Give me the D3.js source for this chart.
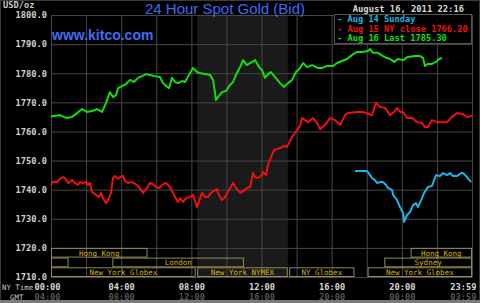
<!DOCTYPE html>
<html>
<head>
<meta charset="utf-8">
<script src="https://cdn.jsdelivr.net/npm/d3@7"></script>
<style>
  body { margin: 0; background: #000; }
  svg { display: block; }
  .mono { font-family: "DejaVu Sans Mono", monospace; font-weight: bold; }
</style>
</head>
<body>
<svg id="chart" width="480" height="303"></svg>
<script>
// values (hours NY time, USD/oz)
var yTicks = [1710, 1720, 1730, 1740, 1750, 1760, 1770, 1780, 1790, 1800];
var nyTickHours = [0, 4, 8, 12, 16, 20, 24];
var nyLabels = ["00:00", "04:00", "08:00", "12:00", "16:00", "20:00", "23:59"];
var gmtLabels = ["04:00", "08:00", "12:00", "16:00", "20:00", "00:00", "03:59"];

var greenHours = [0.00, 0.11, 0.51, 0.74, 0.91, 1.20, 1.48, 1.77, 2.05, 2.34, 2.62, 2.91, 3.14, 3.36, 3.53, 3.71, 3.82,
  4.05, 4.28, 4.50, 4.73, 4.96, 5.19, 5.42, 5.64, 5.93, 6.21, 6.39, 6.56, 6.73, 6.90, 7.07, 7.24, 7.47, 7.64, 7.93,
  8.10, 8.32, 8.49, 8.78, 9.07, 9.24, 9.41, 9.52, 9.75, 9.98, 10.21, 10.38, 10.60, 10.78, 10.95, 11.17, 11.35, 11.63,
  11.86, 12.03, 12.20, 12.37, 12.54, 12.77, 13.06, 13.28, 13.51, 13.74, 13.97, 14.20, 14.37, 14.60, 14.88, 15.22,
  15.45, 15.74, 16.08, 16.31, 16.59, 16.88, 17.16, 17.45, 17.73, 18.07, 18.19, 18.36, 18.64, 18.93, 19.16, 19.33,
  19.56, 19.78, 20.07, 20.35, 20.75, 21.04, 21.21, 21.32, 21.49, 21.72, 21.95, 22.12, 22.29];
var greenValues = [1765.0, 1765.3, 1765.6, 1765.0, 1764.6, 1765.0, 1766.3, 1767.7, 1766.7, 1767.0, 1767.7, 1766.7, 1769.8, 1773.5, 1771.8, 1772.5, 1774.9,
  1775.6, 1776.3, 1777.7, 1777.0, 1778.4, 1779.0, 1779.7, 1779.4, 1779.0, 1778.7, 1776.6, 1775.6, 1774.9, 1778.4, 1777.0, 1776.6, 1777.3, 1777.0, 1780.1,
  1781.8, 1780.4, 1780.1, 1779.7, 1779.4, 1777.7, 1770.8, 1771.8, 1773.5, 1773.9, 1776.0, 1777.0, 1780.1, 1782.1, 1784.5, 1782.8, 1783.5, 1784.5,
  1782.1, 1781.1, 1778.4, 1779.7, 1780.4, 1778.7, 1776.6, 1775.3, 1776.6, 1777.7, 1780.4, 1781.8, 1783.5, 1782.1, 1782.8, 1781.8,
  1781.8, 1782.5, 1782.5, 1783.5, 1784.2, 1784.9, 1786.3, 1787.3, 1787.3, 1787.6, 1788.3, 1787.0, 1787.0, 1785.9, 1785.2, 1784.9,
  1783.9, 1784.9, 1784.5, 1785.6, 1785.9, 1785.9, 1785.2, 1782.5, 1783.2, 1783.2, 1783.9, 1784.9, 1785.2];

var redHours = [0.00, 0.11, 0.34, 0.51, 0.68, 0.80, 0.97, 1.08, 1.20, 1.37, 1.54, 1.65, 1.82, 2.00, 2.11, 2.22, 2.34, 2.57,
  2.74, 2.85, 2.96, 3.14, 3.25, 3.42, 3.53, 3.65, 3.82, 3.93, 4.10, 4.22, 4.39, 4.56, 4.73, 4.96, 5.13, 5.25, 5.47,
  5.64, 5.82, 5.99, 6.16, 6.39, 6.56, 6.78, 7.01, 7.24, 7.35, 7.53, 7.70, 7.92, 8.10, 8.32, 8.61, 8.78, 8.95, 9.18,
  9.46, 9.52, 9.75, 9.92, 10.09, 10.38, 10.55, 10.78, 10.95, 11.17, 11.35, 11.52, 11.63, 11.80, 12.03, 12.09, 12.26,
  12.37, 12.54, 12.71, 13.06, 13.28, 13.45, 13.74, 14.03, 14.20, 14.31, 14.48, 14.65, 14.94, 15.17, 15.34, 15.62,
  15.91, 16.19, 16.48, 16.76, 16.93, 17.45, 17.79, 18.30, 18.53, 18.76, 19.04, 19.33, 19.56, 19.73, 19.90, 20.07,
  20.30, 20.58, 20.87, 21.15, 21.32, 21.49, 21.72, 22.01, 22.35, 22.58, 22.86, 23.15, 23.43, 23.72, 24.00];
var redValues = [1741.6, 1742.6, 1742.6, 1743.7, 1744.3, 1744.0, 1742.3, 1742.6, 1743.3, 1742.3, 1741.6, 1742.6, 1742.3, 1742.6, 1741.6, 1742.3, 1739.2, 1738.2,
  1737.5, 1738.9, 1737.1, 1735.4, 1736.4, 1738.9, 1744.0, 1744.7, 1743.7, 1744.3, 1744.7, 1743.0, 1742.3, 1742.6, 1742.3, 1741.3, 1739.9, 1738.9, 1740.6,
  1742.3, 1741.9, 1740.9, 1740.6, 1741.9, 1742.3, 1740.9, 1738.2, 1735.8, 1737.1, 1735.8, 1737.1, 1737.5, 1738.2, 1734.0, 1738.9, 1737.5, 1737.5, 1739.2,
  1740.2, 1738.9, 1736.4, 1737.5, 1739.2, 1742.3, 1740.6, 1738.9, 1739.5, 1740.6, 1740.9, 1745.7, 1744.3, 1744.0, 1745.0, 1746.1, 1745.0,
  1748.5, 1751.2, 1753.6, 1754.3, 1755.0, 1754.7, 1758.1, 1760.5, 1761.9, 1764.6, 1763.9, 1763.2, 1764.6, 1762.9, 1760.8, 1762.2,
  1764.6, 1763.9, 1762.2, 1765.6, 1766.3, 1766.7, 1766.7, 1765.6, 1769.8, 1768.4, 1768.1, 1765.6, 1766.7, 1768.1, 1766.7, 1766.7,
  1764.6, 1764.6, 1763.2, 1762.9, 1761.5, 1761.5, 1763.9, 1763.2, 1763.2, 1763.2, 1765.0, 1766.3, 1766.0, 1765.0, 1765.3];

var cyanHours = [17.33, 18.02, 18.19, 18.30, 18.47, 18.59, 18.76, 18.93, 19.10, 19.21, 19.44, 19.50, 19.73, 19.90, 20.07,
  20.13, 20.30, 20.47, 20.64, 20.81, 20.92, 21.15, 21.27, 21.49, 21.72, 21.84, 21.95, 22.18, 22.35, 22.58, 22.75,
  22.92, 23.15, 23.38, 23.49, 23.72, 23.95];
var cyanValues = [1746.4, 1746.4, 1745.0, 1744.0, 1743.3, 1742.3, 1742.6, 1742.6, 1741.6, 1740.6, 1739.9, 1738.2, 1736.4, 1734.0, 1732.0,
  1728.9, 1731.3, 1732.3, 1734.7, 1735.4, 1734.0, 1737.1, 1738.9, 1740.9, 1741.3, 1743.3, 1745.0, 1744.7, 1745.7, 1745.0, 1745.7,
  1744.7, 1744.7, 1745.7, 1745.7, 1744.3, 1742.6];

var legendLabels = ["- Aug 14 Sunday", "- Aug 15 NY close 1766.20", "- Aug 16 Last 1785.30"];
var legendColors = ["#1eb4e6", "#f01010", "#10e010"];

// trading sessions shown at the foot of the chart
var sessionNames = ["Hong Kong", "Hong Kong", "", "London", "Sydney", "New York Globex", "New York NYMEX", "NY Globex", "New York Globex"];
var sessionStart = [0, 20.5, 0, 3.5, 19, 0, 8.33, 13.58, 18.05];
var sessionEnd = [5.5, 24, 1, 11, 24, 8.25, 13.5, 17.3, 24];
var sessionRow = [0, 0, 1, 1, 1, 2, 2, 2, 2];
var nymexHours = [8.33, 13.5];

var svg = d3.select("#chart");
var plotLeft = 51, plotRight = 472, plotTop = 15, plotBottom = 277;

var x = d3.scaleLinear().domain([0, 24]).range([plotLeft, plotRight]);
var y = d3.scaleLinear().domain([1710, 1800]).range([plotBottom, plotTop]);

svg.append("rect").attr("width", 480).attr("height", 303).attr("fill", "#000");

// NYMEX open hours shading
svg.append("rect")
  .attr("x", x(nymexHours[0]))
  .attr("y", plotTop)
  .attr("width", x(nymexHours[1]) - x(nymexHours[0]))
  .attr("height", plotBottom - plotTop)
  .attr("fill", "#1a1a1a");

// vertical grid every 2 hours
var xGrid = d3.axisBottom(x).tickValues(d3.range(0, 25, 2)).tickSize(-(plotBottom - plotTop)).tickFormat("");
svg.append("g").attr("transform", "translate(0," + plotBottom + ")").call(xGrid)
  .call(function(g) { g.select(".domain").remove(); })
  .selectAll("line").attr("stroke", "#474747");

// horizontal grid + price labels
var yAxis = d3.axisLeft(y).tickValues(yTicks).tickSize(-(plotRight - plotLeft)).tickPadding(4).tickFormat(d3.format(".1f"));
var yg = svg.append("g").attr("transform", "translate(" + plotLeft + ",0)").call(yAxis);
yg.select(".domain").remove();
yg.selectAll("line").attr("stroke", "#474747");
yg.selectAll("text").attr("class", "mono").attr("fill", "#d0d0d0").style("font-size", "8.7px");

// session boxes
var rowH = (plotBottom - y(1720)) / 3;
var sess = svg.append("g").selectAll("g").data(sessionNames).enter().append("g");
sess.append("rect")
  .attr("x", function(d, i) { return x(sessionStart[i]) + 0.5; })
  .attr("y", function(d, i) { return y(1720) + sessionRow[i] * rowH + 0.5; })
  .attr("width", function(d, i) { return x(sessionEnd[i]) - x(sessionStart[i]) - 1; })
  .attr("height", rowH - 1)
  .attr("fill", "none")
  .attr("stroke", "#8f8a58");
sess.append("text")
  .attr("class", "mono")
  .attr("x", function(d, i) { return (x(sessionStart[i]) + x(sessionEnd[i])) / 2; })
  .attr("y", function(d, i) { return y(1720) + sessionRow[i] * rowH + rowH - 2; })
  .attr("text-anchor", "middle")
  .attr("fill", "#d8b400")
  .style("font-size", "7.5px")
  .style("font-weight", "normal")
  .text(function(d) { return d; });

// price lines
var line = d3.line()
  .x(function(d) { return x(d[0]); })
  .y(function(d) { return y(d[1]); });

function drawSeries(hours, values, color) {
  svg.append("path")
    .datum(d3.zip(hours, values))
    .attr("d", line)
    .attr("fill", "none")
    .attr("stroke", color)
    .attr("stroke-width", 2)
    .attr("stroke-linejoin", "round");
}
drawSeries(redHours, redValues, legendColors[1]);
drawSeries(cyanHours, cyanValues, legendColors[0]);
drawSeries(greenHours, greenValues, legendColors[2]);

// time axes
var nyAxis = d3.axisBottom(x).tickValues(nyTickHours).tickSize(0).tickPadding(0)
  .tickFormat(function(d, i) { return nyLabels[i]; });
var nyg = svg.append("g").attr("transform", "translate(0,283)").call(nyAxis);
nyg.select(".domain").remove();
nyg.selectAll("text").attr("class", "mono").attr("fill", "#d8d8d8").style("font-size", "8.7px").attr("dy", "0.75em");

var gmtAxis = d3.axisBottom(x).tickValues(nyTickHours).tickSize(0).tickPadding(0)
  .tickFormat(function(d, i) { return gmtLabels[i]; });
var gg = svg.append("g").attr("transform", "translate(0,293)").call(gmtAxis);
gg.select(".domain").remove();
gg.selectAll("text").attr("class", "mono").attr("fill", "#555").style("font-size", "8.7px").attr("dy", "0.75em");

[nyg, gg].forEach(function(g) {
  g.selectAll(".tick text").filter(function(d) { return d === 0; }).attr("dx", -4);
  g.selectAll(".tick text").filter(function(d) { return d === 24; }).attr("text-anchor", "end").attr("dx", 4);
});

svg.append("text").attr("class", "mono").attr("x", 2).attr("y", 290)
  .attr("fill", "#c8c8c8").style("font-size", "7.4px").style("font-weight", "normal").text("NY Time");
svg.append("text").attr("class", "mono").attr("x", 10).attr("y", 300)
  .attr("fill", "#c8c8c8").style("font-size", "7.4px").style("font-weight", "normal").text("GMT");

// headings
svg.append("text").attr("class", "mono").attr("x", 3).attr("y", 8)
  .attr("fill", "#c8c8c8").style("font-size", "8.7px").text("USD/oz");
svg.append("text").attr("x", 225).attr("y", 14).attr("text-anchor", "middle")
  .attr("fill", "#3e6cf2").style("font-family", "Liberation Sans, Arial, sans-serif").style("font-size", "15px")
  .text("24 Hour Spot Gold (Bid)");
svg.append("text").attr("x", 52).attr("y", 40)
  .attr("fill", "#3e6cf2").style("font-family", "Liberation Sans, Arial, sans-serif").style("font-size", "14px")
  .style("font-weight", "bold").text("www.kitco.com");
svg.append("text").attr("class", "mono").attr("x", 464).attr("y", 12).attr("text-anchor", "end")
  .attr("fill", "#d8d8d8").style("font-size", "8.8px").text("August 16, 2011 22:16");

// legend
svg.append("rect").attr("x", 334.5).attr("y", 14.5).attr("width", 137).attr("height", 29)
  .attr("fill", "#000").attr("stroke", "#555");
svg.append("g").selectAll("text").data(legendLabels).enter().append("text")
  .attr("class", "mono")
  .attr("x", 337)
  .attr("y", function(d, i) { return 22 + i * 9.5; })
  .attr("fill", function(d, i) { return legendColors[i]; })
  .style("font-size", "8.7px")
  .text(function(d) { return d; });

// outer frame
svg.append("rect").attr("x", 0.5).attr("y", 0.5).attr("width", 479).attr("height", 302)
  .attr("fill", "none").attr("stroke", "#3a3a3a");
svg.append("line").attr("x1", 0).attr("x2", 480).attr("y1", 301.5).attr("y2", 301.5)
  .attr("stroke", "#7a7a7a").attr("stroke-width", 3);
</script>
</body>
</html>
